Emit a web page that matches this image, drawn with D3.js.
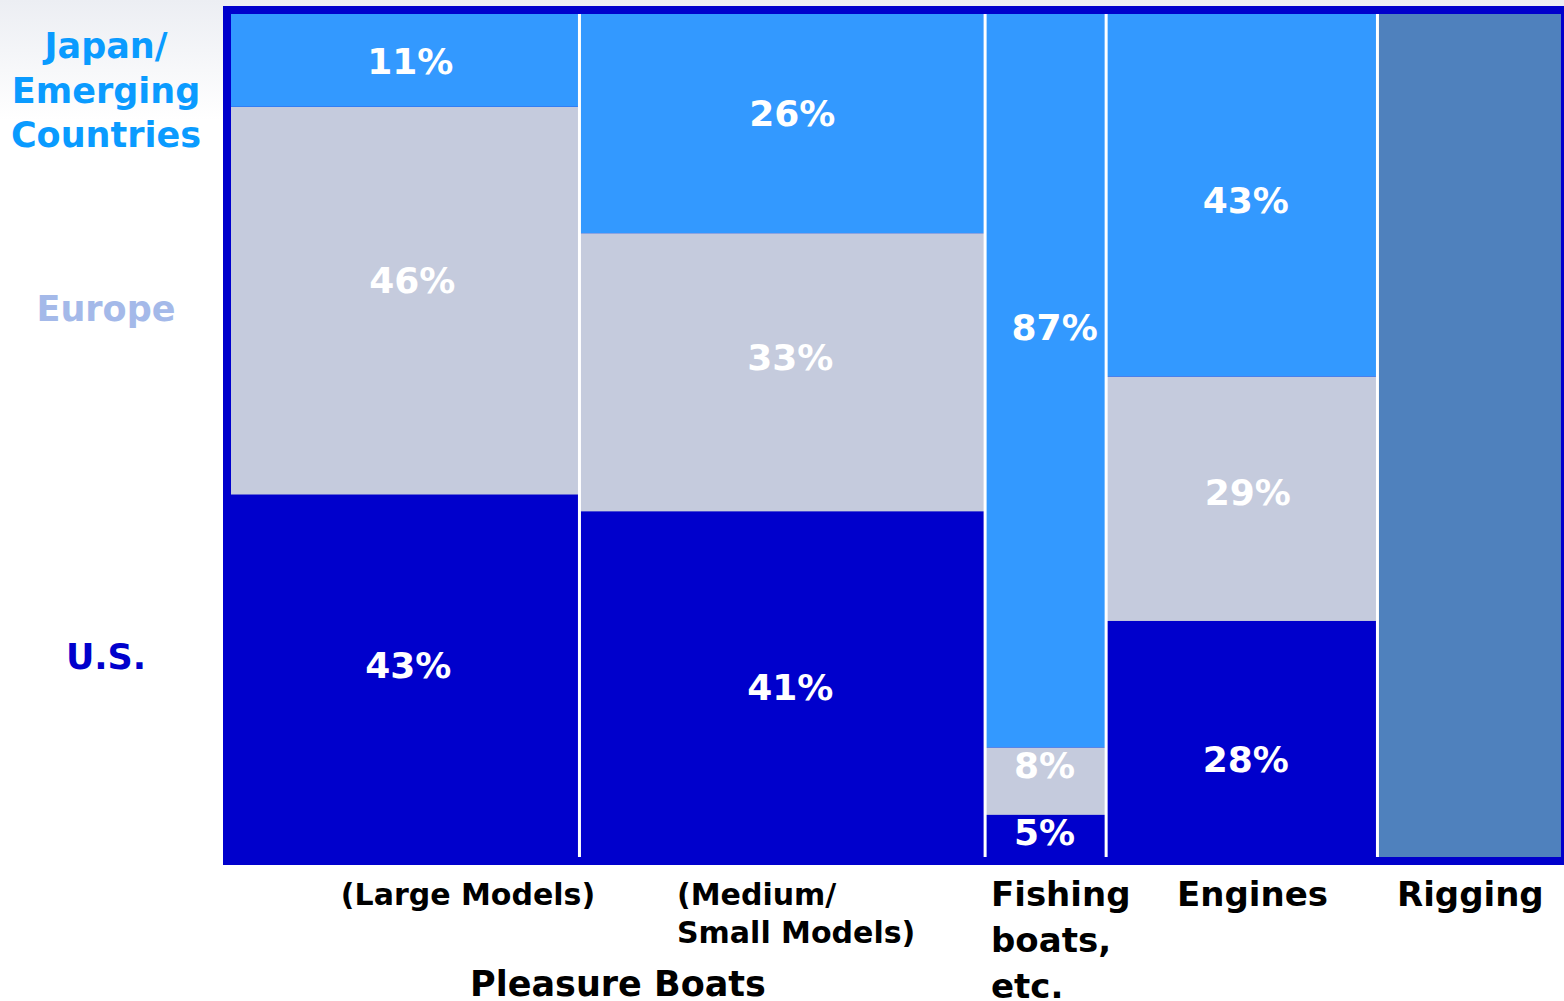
<!DOCTYPE html>
<html>
<head>
<meta charset="utf-8">
<script src="https://cdn.jsdelivr.net/npm/d3@7"></script>
<style>
  html, body { margin: 0; padding: 0; background: #fff; }
  svg { display: block; font-family: "DejaVu Sans", Verdana, sans-serif; font-weight: bold; }
</style>
</head>
<body>
<div id="chart"></div>
<script>
// ------------------------------------
// Data
// ------------------------------------
const columns = ["Large Models", "Medium/Small Models", "Fishing boats, etc.", "Engines", "Rigging"];
const columnShare = [26.2, 30.5, 9.1, 20.4, 13.8];   // column widths (% of total)
const regions = ["U.S.", "Europe", "Japan/Emerging Countries"];
const usShare = [43, 41, 5, 28, null];
const europeShare = [46, 33, 8, 29, null];
const japanShare = [11, 26, 87, 43, null];

// ------------------------------------
// Layout / styles
// ------------------------------------
const width = 1564, height = 1001;
const plot = { left: 231, right: 1561, top: 14, bottom: 857 };
const border = 8;
const colors = {
  "U.S.": "#0000cc",
  "Europe": "#c5cbdd",
  "Japan/Emerging Countries": "#3399ff",
  none: "#4f81bd"
};
const legendColors = {
  "U.S.": "#0000cc",
  "Europe": "#a4b9e9",
  "Japan/Emerging Countries": "#0a9bff"
};
// hand placed label nudges [dx, dy] per column, order US, Europe, Japan
const labelNudge = [
  [[3, -11], [7, -21], [5, 1]],
  [[8, 3], [8, -15], [10, -11]],
  [[-1, -4], [-1, -16], [9, -54]],
  [[4, 20], [6, -7], [4, 5]]
];

const svg = d3.select("#chart").append("svg")
  .attr("width", width)
  .attr("height", height);

// soft gradient at the top of the slide
const grad = svg.append("defs").append("linearGradient")
  .attr("id", "bg").attr("x1", 0).attr("y1", 0).attr("x2", 0).attr("y2", 1);
grad.append("stop").attr("offset", "0%").attr("stop-color", "#eceef3");
grad.append("stop").attr("offset", "12%").attr("stop-color", "#ffffff");
svg.append("rect").attr("width", width).attr("height", height).attr("fill", "url(#bg)");

// ------------------------------------
// Scales
// ------------------------------------
const cum = d3.cumsum(columnShare);
const x = d3.scaleLinear().domain([0, 100]).range([plot.left, plot.right]);
const y = d3.scaleLinear().domain([0, 100]).range([plot.bottom, plot.top]);

const rows = columns.map((c, i) => ({
  name: c,
  x0: i === 0 ? 0 : cum[i - 1],
  x1: cum[i],
  "U.S.": usShare[i],
  "Europe": europeShare[i],
  "Japan/Emerging Countries": japanShare[i]
}));

// frame
svg.append("rect")
  .attr("x", plot.left - border)
  .attr("y", plot.top - border)
  .attr("width", plot.right - plot.left + 2 * border)
  .attr("height", plot.bottom - plot.top + 2 * border)
  .attr("fill", colors["U.S."]);

const g = svg.append("g");

// stacked segments
const stacked = d3.stack().keys(regions).value((d, k) => d[k] ?? 0)(rows);

stacked.forEach((layer, li) => {
  g.selectAll(null)
    .data(layer.filter(d => d.data[layer.key] != null))
    .join("rect")
    .attr("x", d => x(d.data.x0))
    .attr("width", d => x(d.data.x1) - x(d.data.x0))
    .attr("y", d => y(d[1]))
    .attr("height", d => y(d[0]) - y(d[1]))
    .attr("fill", colors[layer.key]);
});

// columns without a regional breakdown
g.selectAll(null)
  .data(rows.filter(d => d["U.S."] == null))
  .join("rect")
  .attr("x", d => x(d.x0))
  .attr("width", d => x(d.x1) - x(d.x0))
  .attr("y", y(100))
  .attr("height", y(0) - y(100))
  .attr("fill", colors.none);

// white separators
g.selectAll(null)
  .data(cum.slice(0, -1))
  .join("line")
  .attr("x1", d => x(d)).attr("x2", d => x(d))
  .attr("y1", y(100)).attr("y2", y(0))
  .attr("stroke", "#fff")
  .attr("stroke-width", 3);

// percentage labels
stacked.forEach((layer, li) => {
  g.selectAll(null)
    .data(layer.map((d, i) => ({ d, i })).filter(o => o.d.data[layer.key] != null))
    .join("text")
    .attr("x", o => (x(o.d.data.x0) + x(o.d.data.x1)) / 2 + labelNudge[o.i][li][0])
    .attr("y", o => (y(o.d[0]) + y(o.d[1])) / 2 + labelNudge[o.i][li][1] + 13)
    .attr("text-anchor", "middle")
    .attr("fill", "#fff")
    .style("font-size", "36px")
    .text(o => o.d.data[layer.key] + "%");
});

// ------------------------------------
// Left legend
// ------------------------------------
const legend = [
  { key: "Japan/Emerging Countries", lines: ["Japan/", "Emerging", "Countries"], y: 58 },
  { key: "Europe", lines: ["Europe"], y: 321 },
  { key: "U.S.", lines: ["U.S."], y: 669 }
];
legend.forEach(l => {
  const t = svg.append("text")
    .attr("x", 106)
    .attr("y", l.y)
    .attr("text-anchor", "middle")
    .attr("fill", legendColors[l.key])
    .style("font-size", "35px");
  l.lines.forEach((s, i) => {
    t.append("tspan").attr("x", 106).attr("dy", i === 0 ? 0 : 44.5).text(s);
  });
});

// ------------------------------------
// Bottom category labels
// ------------------------------------
function multiLine(lines, xPos, yPos, anchor, size, lh) {
  const t = svg.append("text")
    .attr("x", xPos).attr("y", yPos)
    .attr("text-anchor", anchor)
    .attr("fill", "#000")
    .style("font-size", size + "px");
  lines.forEach((s, i) => {
    t.append("tspan").attr("x", xPos).attr("dy", i === 0 ? 0 : lh).text(s);
  });
}

multiLine(["(Large Models)"], 468, 905, "middle", 30, 38);
multiLine(["(Medium/", "Small Models)"], 677, 905, "start", 30, 38);
multiLine(["Pleasure Boats"], 618, 996, "middle", 35, 40);
multiLine(["Fishing", "boats,", "etc."], 991, 906, "start", 34, 46);
multiLine(["Engines"], 1177, 906, "start", 34, 40);
multiLine(["Rigging"], 1397, 906, "start", 34, 40);
</script>
</body>
</html>
